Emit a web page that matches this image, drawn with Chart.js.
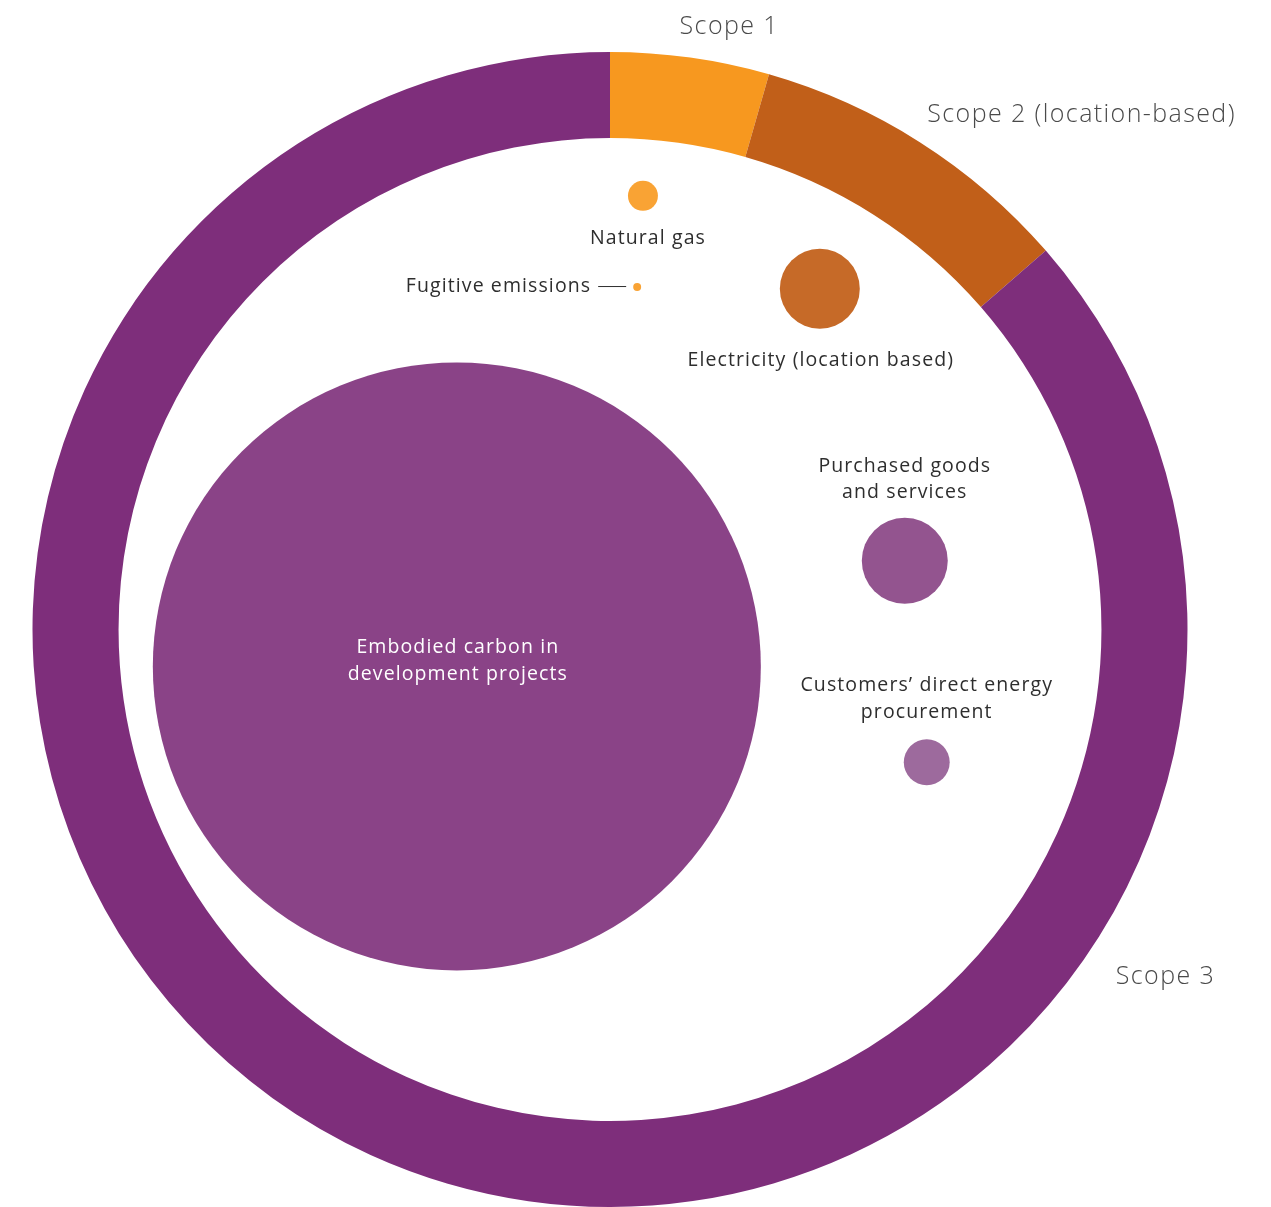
<!DOCTYPE html>
<html><head><meta charset="utf-8">
<script src="https://cdn.jsdelivr.net/npm/chart.js@4/dist/chart.umd.min.js"></script>
<style>
html,body{margin:0;padding:0;background:#fff;overflow:hidden;width:1271px;height:1207px}
#wrap{position:relative;width:1271px;height:1207px}
canvas{position:absolute;left:0;top:0}
</style></head><body>
<div id="wrap">
<canvas id="ring" width="1271" height="1207"></canvas>
<canvas id="bubbles" width="1271" height="1207"></canvas>
</div>
<script>
// ---- Data ----
const scopeLabels = ['Scope 1', 'Scope 2 (location-based)', 'Scope 3'];
const scopeShares = [4.44, 9.17, 86.39]; // % of total footprint

const sourceLabels = [
  'Natural gas',
  'Fugitive emissions',
  'Electricity (location based)',
  'Embodied carbon in\ndevelopment projects',
  'Purchased goods\nand services',
  'Customers\u2019 direct energy\nprocurement'
];
const sourceScope = [1, 1, 2, 3, 3, 3];
const sourceValues = [24.3, 1.7, 173, 10000, 200, 57]; // relative emissions (area)
const sourceX = [0.057, 0.047, 0.363, -0.265, 0.510, 0.548]; // packed layout coordinates
const sourceY = [0.751, 0.593, 0.590, -0.064, 0.119, -0.230];

// ---- Styles ----
const ringColors = ['#F7981F', '#C15F19', '#7E2E7B'];
const bubbleColors = ['#F9A334', '#F9A334', '#C66A28', '#8A4387', '#93548F', '#9D6A9D'];
const PAD = {left: 32, top: 52, right: 83, bottom: 0};
const FONT = '"Open Sans", "Noto Sans", sans-serif';

const ringLabelPlugin = {
  id: 'ringLabels',
  afterDatasetsDraw(chart) {
    const ctx = chart.ctx;
    const arc = chart.getDatasetMeta(0).data[0];
    const cx = arc.x, cy = arc.y;
    const place = [
      {ang: 11.2, dist: 614},
      {ang: 42.5, dist: 698},
      {ang: 122.0, dist: 655}
    ];
    ctx.save();
    ctx.fillStyle = '#4a4a4a';
    ctx.font = '300 25px ' + FONT;
    ctx.letterSpacing = '1.4px';
    ctx.textBaseline = 'middle';
    ctx.textAlign = 'center';
    scopeLabels.forEach((t, i) => {
      const a = place[i].ang * Math.PI / 180;
      ctx.fillText(t, cx + Math.sin(a) * place[i].dist, cy - Math.cos(a) * place[i].dist);
    });
    ctx.restore();
  }
};

new Chart(document.getElementById('ring'), {
  type: 'doughnut',
  data: {
    labels: scopeLabels,
    datasets: [{data: scopeShares, backgroundColor: ringColors, borderWidth: 0, hoverOffset: 0}]
  },
  options: {
    responsive: false,
    animation: false,
    cutout: '85.1%',
    layout: {padding: PAD},
    plugins: {legend: {display: false}, tooltip: {enabled: false}}
  },
  plugins: [ringLabelPlugin]
});

const RK = 3.04; // radius per sqrt(value)

const bubbleLabelPlugin = {
  id: 'bubbleLabels',
  afterDatasetsDraw(chart) {
    const ctx = chart.ctx;
    const pts = chart.getDatasetMeta(0).data;
    ctx.save();
    ctx.font = '400 19.5px ' + FONT;
    ctx.letterSpacing = '1.1px';
    ctx.textBaseline = 'middle';
    const lh = 26.5;
    pts.forEach((p, i) => {
      const r = RK * Math.sqrt(sourceValues[i]);
      const lines = sourceLabels[i].split('\n');
      ctx.fillStyle = '#2e2e2e';
      ctx.textAlign = 'center';
      if (i === 0) {
        ctx.fillText(lines[0], p.x + 5, p.y + r + 28);
      } else if (i === 1) {
        ctx.textAlign = 'right';
        ctx.fillText(lines[0], p.x - 46, p.y - 1);
        ctx.strokeStyle = '#2e2e2e';
        ctx.lineWidth = 1;
        ctx.beginPath();
        ctx.moveTo(p.x - 39, p.y - 0.5);
        ctx.lineTo(p.x - 11, p.y - 0.5);
        ctx.stroke();
      } else if (i === 2) {
        ctx.fillText(lines[0], p.x + 1, p.y + r + 32);
      } else if (i === 3) {
        ctx.fillStyle = '#ffffff';
        lines.forEach((l, k) => ctx.fillText(l, p.x + 1, p.y - 19 + k * lh));
      } else {
        const gap = i === 4 ? 25 : 27;
        const top = p.y - r - gap - (lines.length - 1) * lh;
        lines.forEach((l, k) => ctx.fillText(l, p.x, top + k * lh));
      }
    });
    ctx.restore();
  }
};

new Chart(document.getElementById('bubbles'), {
  type: 'bubble',
  data: {
    datasets: [{
      data: sourceValues.map((v, i) => ({x: sourceX[i], y: sourceY[i], v: v})),
      backgroundColor: bubbleColors,
      borderWidth: 0,
      radius: (c) => RK * Math.sqrt(c.raw ? c.raw.v : 0),
      hoverRadius: 0,
      clip: false
    }]
  },
  options: {
    responsive: false,
    animation: false,
    layout: {padding: PAD, autoPadding: false},
    scales: {
      x: {type: 'linear', min: -1, max: 1, display: false},
      y: {type: 'linear', min: -1, max: 1, display: false}
    },
    plugins: {legend: {display: false}, tooltip: {enabled: false}}
  },
  plugins: [bubbleLabelPlugin]
});
</script>
</body></html>
